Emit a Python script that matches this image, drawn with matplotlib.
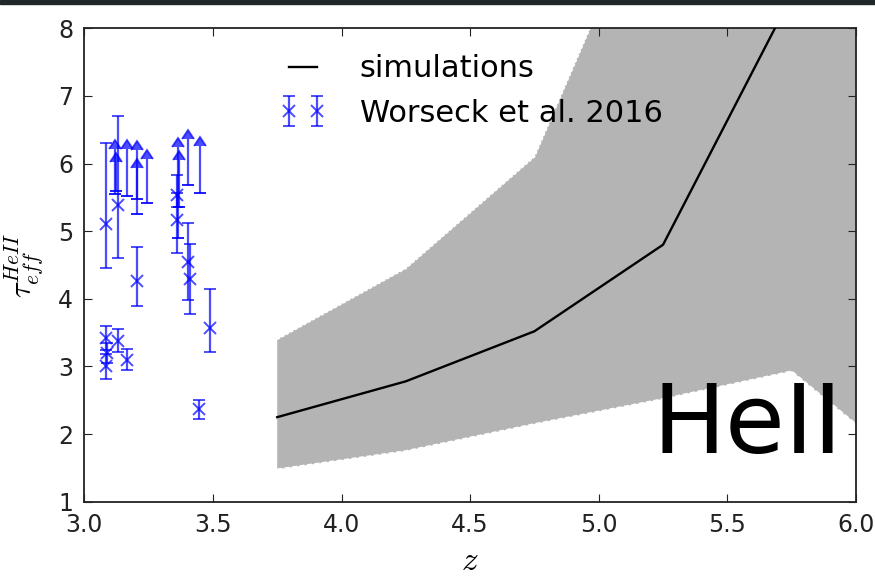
import numpy as np
import matplotlib
matplotlib.use('Agg')
import matplotlib.pyplot as plt
from matplotlib.patches import Rectangle

plt.rcParams['mathtext.fontset'] = 'cm'

# simulations: median and envelope of tau_eff(HeII)
z_sim = [3.75, 4.25, 4.75, 5.25, 5.75, 6.25]
tau_med = [2.25, 2.78, 3.52, 4.80, 8.48, 11.0]
tau_upper = [3.40, 4.45, 6.10, 10.5, 14.0, 17.0]
tau_lower = [1.48, 1.75, 2.15, 2.52, 2.93, 1.37]

# Worseck et al. 2016, measurements
z_det = [3.085, 3.085, 3.09, 3.085, 3.13, 3.13, 3.165, 3.205, 3.36, 3.36, 3.405, 3.41, 3.445, 3.49]
tau_det = [5.10, 3.42, 3.20, 3.00, 5.38, 3.38, 3.10, 4.27, 5.53, 5.16, 4.55, 4.29, 2.37, 3.57]
err_lo = [0.64, 0.18, 0.15, 0.18, 0.77, 0.17, 0.16, 0.38, 0.17, 0.48, 0.57, 0.52, 0.14, 0.36]
err_hi = [1.21, 0.18, 0.15, 0.18, 1.32, 0.17, 0.16, 0.49, 0.30, 0.40, 0.57, 0.52, 0.14, 0.57]

# Worseck et al. 2016, lower limits (bottom of bar, arrow tip)
z_lim = [3.12, 3.125, 3.165, 3.205, 3.205, 3.245, 3.365, 3.37, 3.405, 3.45]
lim_lo = [5.55, 5.60, 5.52, 5.47, 5.26, 5.42, 4.90, 5.36, 5.69, 5.56]
lim_hi = [6.22, 6.03, 6.22, 6.20, 5.93, 6.07, 6.25, 6.05, 6.36, 6.26]

fig = plt.figure(figsize=(8.75, 5.77), dpi=100)
ax = fig.add_axes([0.0963, 0.1305, 0.882, 0.8205])

# strip at the top of the screenshot
fig.patches.append(Rectangle((0, 0.993), 1, 0.007, transform=fig.transFigure,
                             color='#1f2729', zorder=10))

ax.fill_between(z_sim, tau_lower, tau_upper, facecolor='#b4b4b4', edgecolor='none', zorder=1)
ax.plot(z_sim, tau_upper, color='white', ls='--', lw=1.2, dashes=(2, 1), zorder=2)
ax.plot(z_sim, tau_lower, color='white', ls='--', lw=1.2, dashes=(3, 1.5), zorder=2)
sim_line, = ax.plot(z_sim, tau_med, color='k', lw=1.7, zorder=3, label='simulations')

eb = ax.errorbar(z_det, tau_det, yerr=[err_lo, err_hi], fmt='x', color='b', alpha=0.7,
                 ms=9, mew=1.4, elinewidth=1.6, capsize=4.5, capthick=1.3,
                 label='Worseck et al. 2016', zorder=4)
lim_hi_arr = np.array(lim_hi)
lim_lo_arr = np.array(lim_lo)
ax.errorbar(z_lim, lim_lo, yerr=lim_hi_arr - lim_lo_arr, lolims=True, fmt='_', color='b',
            alpha=0.7, ms=9, mew=1.3, elinewidth=1.6, capsize=4.5, capthick=1.3, zorder=4)

ax.set_xlim(3.0, 6.0)
ax.set_ylim(1, 8)
ax.set_xticks(np.arange(3.0, 6.01, 0.5))
ax.set_xticklabels(['%.1f' % v for v in np.arange(3.0, 6.01, 0.5)])
ax.set_yticks(range(1, 9))
ax.tick_params(direction='in', top=True, right=True, length=6, width=0.8,
               labelsize=17, pad=8, colors='#222222')
for s in ax.spines.values():
    s.set_linewidth(1.3)
    s.set_color('#222222')

ax.set_xlabel('$z$', fontsize=24)
ax.xaxis.set_label_coords(0.5, -0.09)
ax.set_ylabel(r'$\tau_{eff}^{HeII}$', fontsize=22)
ax.yaxis.set_label_coords(-0.05, 0.5)

ax.text(0.982, 0.103, 'HeII', transform=ax.transAxes, fontsize=70,
        ha='right', va='baseline', zorder=6)

ax.legend([sim_line, eb], ['simulations', 'Worseck et al. 2016'], loc='upper left',
          bbox_to_anchor=(0.254, 0.945), frameon=False, fontsize=22, numpoints=2,
          handlelength=1.5, handletextpad=1.1, borderpad=0, borderaxespad=0,
          labelspacing=0.5)

fig.savefig('out.png', dpi=100)
